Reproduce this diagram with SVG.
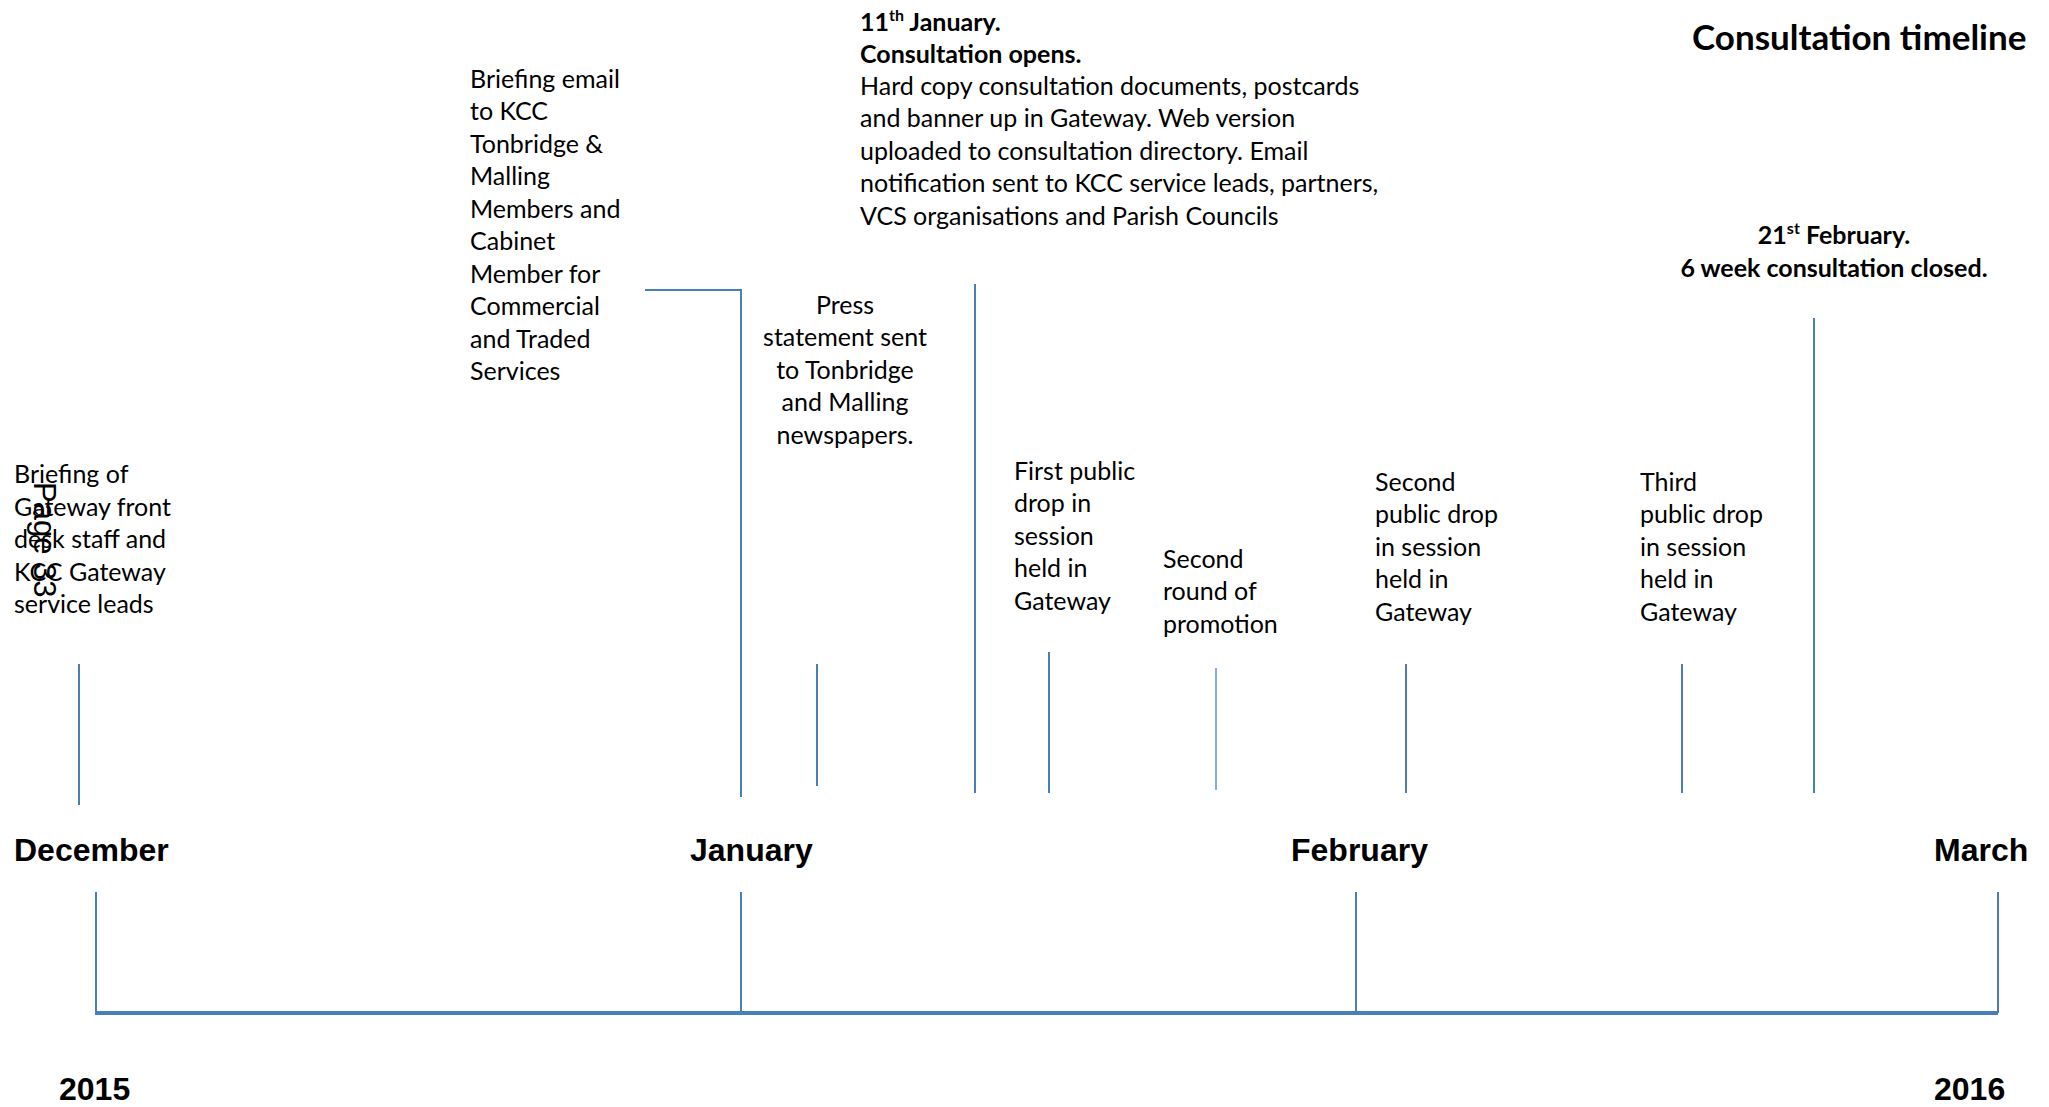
<svg xmlns="http://www.w3.org/2000/svg" width="2049" height="1107" viewBox="0 0 2049 1107">
<style>
  .t { font-family: Lato, "Open Sans", sans-serif; font-size: 25px; fill: #000; }
  .b { font-weight: bold; }
  .m { font-family: "Liberation Sans", Arial, sans-serif; font-size: 32px; font-weight: bold; fill: #000; }
  .ln { stroke: #4a7ebb; stroke-width: 2; fill: none; }
  .lt { stroke: #6a9ad6; stroke-width: 1.6; fill: none; }
  .ax { stroke: #4a7ebb; stroke-width: 4; fill: none; }
</style>
<rect width="2049" height="1107" fill="#fff"/>

<g id="title">
  <text class="t b" x="1692" y="50" style="font-size:35px">Consultation timeline</text>
</g>

<g id="page-mark">
  <text transform="translate(34,482) rotate(90)" style="font-family:'Liberation Sans',Arial,sans-serif;font-size:31px;fill:#000">Page 33</text>
</g>

<g id="node-briefing-staff">
  <text class="t"><tspan x="14" y="483">Briefing of</tspan><tspan x="14" y="516">Gateway front</tspan><tspan x="14" y="548">desk staff and</tspan><tspan x="14" y="581">KCC Gateway</tspan><tspan x="14" y="613">service leads</tspan></text>
</g>

<g id="node-briefing-email">
  <text class="t"><tspan x="470" y="88">Briefing email</tspan><tspan x="470" y="120">to KCC</tspan><tspan x="470" y="153">Tonbridge &amp;</tspan><tspan x="470" y="185">Malling</tspan><tspan x="470" y="218">Members and</tspan><tspan x="470" y="250">Cabinet</tspan><tspan x="470" y="283">Member for</tspan><tspan x="470" y="315">Commercial</tspan><tspan x="470" y="348">and Traded</tspan><tspan x="470" y="380">Services</tspan></text>
</g>

<g id="node-press">
  <text class="t" text-anchor="middle"><tspan x="845" y="314">Press</tspan><tspan x="845" y="346">statement sent</tspan><tspan x="845" y="379">to Tonbridge</tspan><tspan x="845" y="411">and Malling</tspan><tspan x="845" y="444">newspapers.</tspan></text>
</g>

<g id="node-consultation-opens">
  <text class="t b" x="860" y="31">11<tspan style="font-size:16px" dy="-10">th</tspan><tspan dy="10"> January.</tspan></text>
  <text class="t b" x="860" y="63">Consultation opens.</text>
  <text class="t"><tspan x="860" y="95">Hard copy consultation documents, postcards</tspan><tspan x="860" y="127">and banner up in Gateway. Web version</tspan><tspan x="860" y="160">uploaded to consultation directory. Email</tspan><tspan x="860" y="192">notification sent to KCC service leads, partners,</tspan><tspan x="860" y="225">VCS organisations and Parish Councils</tspan></text>
</g>

<g id="node-first-drop-in">
  <text class="t"><tspan x="1014" y="480">First public</tspan><tspan x="1014" y="512">drop in</tspan><tspan x="1014" y="545">session</tspan><tspan x="1014" y="577">held in</tspan><tspan x="1014" y="610">Gateway</tspan></text>
</g>

<g id="node-second-promotion">
  <text class="t"><tspan x="1163" y="568">Second</tspan><tspan x="1163" y="600">round of</tspan><tspan x="1163" y="633">promotion</tspan></text>
</g>

<g id="node-second-drop-in">
  <text class="t"><tspan x="1375" y="491">Second</tspan><tspan x="1375" y="523">public drop</tspan><tspan x="1375" y="556">in session</tspan><tspan x="1375" y="588">held in</tspan><tspan x="1375" y="621">Gateway</tspan></text>
</g>

<g id="node-third-drop-in">
  <text class="t"><tspan x="1640" y="491">Third</tspan><tspan x="1640" y="523">public drop</tspan><tspan x="1640" y="556">in session</tspan><tspan x="1640" y="588">held in</tspan><tspan x="1640" y="621">Gateway</tspan></text>
</g>

<g id="node-consultation-closed">
  <text class="t b" x="1834" y="244" text-anchor="middle">21<tspan style="font-size:16px" dy="-10">st</tspan><tspan dy="10"> February.</tspan></text>
  <text class="t b" x="1834" y="277" text-anchor="middle">6 week consultation closed.</text>
</g>

<g id="months">
  <text class="m" x="14" y="861">December</text>
  <text class="m" x="690" y="861">January</text>
  <text class="m" x="1291" y="861">February</text>
  <text class="m" x="1934" y="861">March</text>
  <text class="m" x="59" y="1100">2015</text>
  <text class="m" x="1934" y="1100">2016</text>
</g>

<g id="connectors">
  <line class="ln" x1="79" y1="664" x2="79" y2="805"/>
  <polyline class="ln" points="645,290 741,290 741,797"/>
  <line class="ln" x1="817" y1="664" x2="817" y2="786"/>
  <line class="ln" x1="975" y1="284" x2="975" y2="793"/>
  <line class="ln" x1="1049" y1="652" x2="1049" y2="793"/>
  <line class="lt" x1="1216" y1="668" x2="1216" y2="790"/>
  <line class="ln" x1="1406" y1="664" x2="1406" y2="793"/>
  <line class="ln" x1="1682" y1="664" x2="1682" y2="793"/>
  <line class="ln" x1="1814" y1="318" x2="1814" y2="793"/>
</g>

<g id="axis">
  <line class="ax" x1="95" y1="1013" x2="1998" y2="1013"/>
  <line class="ln" x1="96" y1="892" x2="96" y2="1013"/>
  <line class="ln" x1="741" y1="892" x2="741" y2="1013"/>
  <line class="ln" x1="1356" y1="892" x2="1356" y2="1013"/>
  <line class="ln" x1="1998" y1="892" x2="1998" y2="1013"/>
</g>
</svg>
